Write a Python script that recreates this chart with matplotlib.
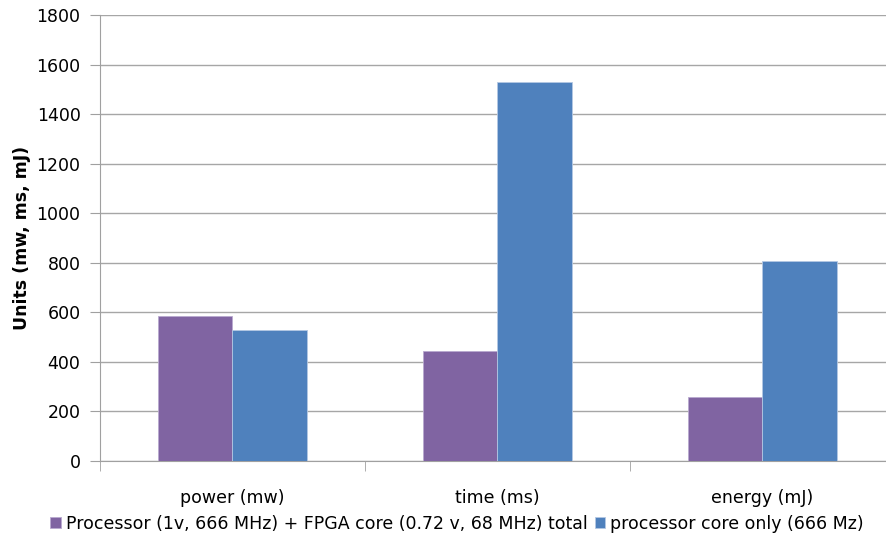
import matplotlib
matplotlib.use("Agg")
import matplotlib.pyplot as plt
import numpy as np

categories = ["power (mw)", "time (ms)", "energy (mJ)"]
combined_total = [586, 443, 258]
processor_only = [530, 1529, 807]
series_labels = ["Processor (1v, 666 MHz) + FPGA core (0.72 v, 68 MHz) total",
                 "processor core only (666 Mz)"]
y_ticks = [0, 200, 400, 600, 800, 1000, 1200, 1400, 1600, 1800]

plt.rcParams['font.family'] = ['DejaVu Sans']

W, H = 887, 543
fig = plt.figure(figsize=(W / 100, H / 100), dpi=100)
ax = fig.add_axes([100 / W, 1 - 461 / H, (W - 100) / W, (461 - 15) / H])

x = np.arange(len(categories))
bw = 0.283
ax.bar(x - bw / 2, combined_total, bw, color="#8064A2", edgecolor="#B9A9CF",
       linewidth=0.6, label=series_labels[0], zorder=3)
ax.bar(x + bw / 2, processor_only, bw, color="#4F81BD", edgecolor="#B4C8E3",
       linewidth=0.6, label=series_labels[1], zorder=3)

ax.set_ylim(0, 1800)
ax.set_yticks(y_ticks)
ax.set_xlim(-0.5, -0.5 + (W - 100) / 265)
ax.set_xticks(x)
ax.set_xticklabels(categories, fontsize=12.5)
ax.tick_params(axis='x', length=0, pad=20)
ax.tick_params(axis='y', labelsize=12.5, length=7, color="#A0A0A0", pad=7)

# minor ticks on category boundaries
ax.set_xticks(np.arange(-0.5, 2.5, 1.0), minor=True)
ax.tick_params(axis='x', which='minor', length=7, color="#A0A0A0")

ax.grid(axis='y', color="#A6A6A6", linewidth=1.0, zorder=0)
for side in ["top", "right"]:
    ax.spines[side].set_visible(False)
ax.spines["left"].set_color("#A0A0A0")
ax.spines["bottom"].set_color("#A0A0A0")

ax.set_ylabel("Units (mw, ms, mJ)", fontsize=12.5, fontweight="bold", labelpad=4)

fig.legend(loc="center", bbox_to_anchor=(457 / W, 1 - 524 / H), ncol=2,
           frameon=False, fontsize=12.5, handlelength=0.6, handleheight=0.6,
           handletextpad=0.3, columnspacing=0.4)

fig.savefig("out.png", dpi=100)
